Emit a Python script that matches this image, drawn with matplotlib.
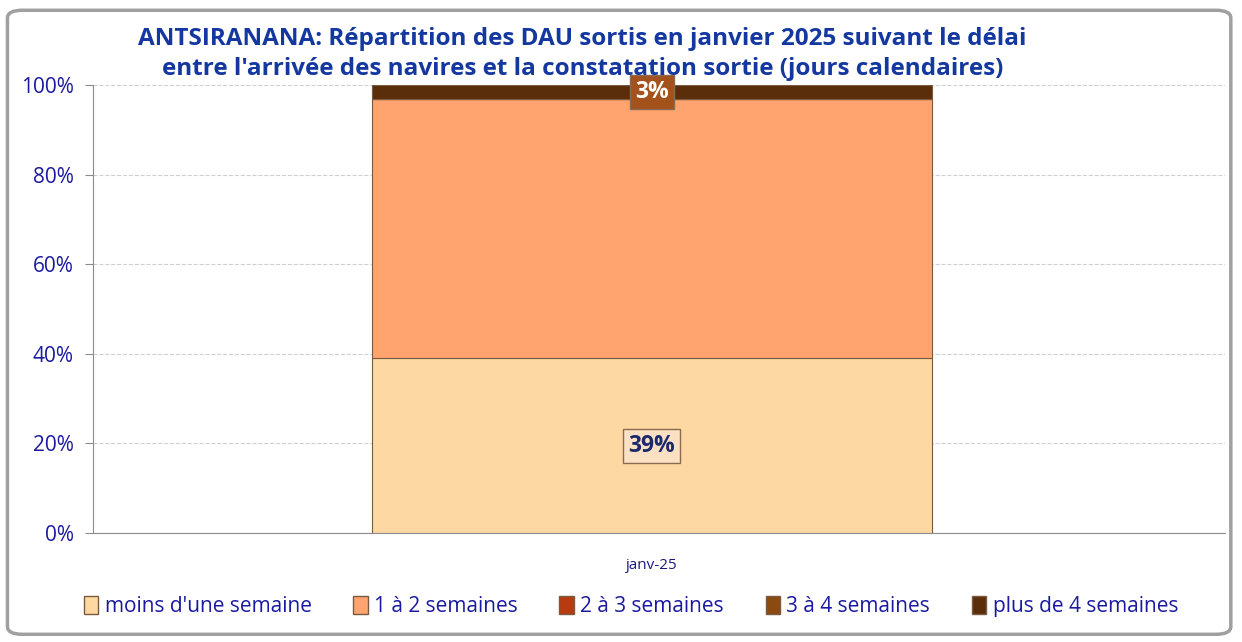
import matplotlib
matplotlib.use("Agg")
import matplotlib.pyplot as plt
from matplotlib.patches import FancyBboxPatch, Patch
from matplotlib.ticker import PercentFormatter

categories = ["janv-25"]
series_names = ["moins d'une semaine", "1 à 2 semaines", "2 à 3 semaines",
                "3 à 4 semaines", "plus de 4 semaines"]
series_values = [39, 58, 0, 0, 3]
series_colors = ["#FDD8A2", "#FFA46F", "#B83A10", "#8B4A10", "#5A2E0A"]
label_series = {0: ("39%", "#FBE0C4", "#1B2A6B"), 4: ("3%", "#A4521C", "white")}

plt.rcParams['font.family'] = ['Open Sans', 'DejaVu Sans']
fig = plt.figure(figsize=(12.42, 6.42), dpi=100)

# outer frame
frame = FancyBboxPatch((0.006, 0.012), 0.985, 0.972, boxstyle="round,pad=0,rounding_size=0.012",
                       transform=fig.transFigure, facecolor="white", edgecolor="#A0A0A0",
                       linewidth=2.5, zorder=-5)
fig.patches.append(frame)

ax = fig.add_axes([0.075, 0.17, 0.911, 0.697])
ax.set_zorder(2)
ax.patch.set_alpha(0)
bottom = 0
for i, (name, val, col) in enumerate(zip(series_names, series_values, series_colors)):
    ax.bar(categories, [val], bottom=[bottom], width=0.99, color=col,
           edgecolor="#7A5A40", linewidth=0.8, zorder=3, label=name)
    if i in label_series and val > 0:
        txt, fc, tc = label_series[i]
        ax.text(0, bottom + val / 2, txt, ha="center", va="center",
                fontsize=16.5, fontweight="bold", color=tc, zorder=5,
                bbox=dict(boxstyle="square,pad=0.22", facecolor=fc, edgecolor="#8A6A50", linewidth=1))
    bottom += val

ax.set_xlim(-0.988, 1.013)
ax.set_ylim(0, 100)
ax.yaxis.set_major_formatter(PercentFormatter(decimals=0))
ax.set_yticks([0, 20, 40, 60, 80, 100])
ax.grid(axis="y", color="#D0D0D0", linestyle="--", linewidth=0.8, zorder=0)
for s in ["top", "right"]:
    ax.spines[s].set_visible(False)
ax.spines["left"].set_color("#8C8C8C")
ax.spines["bottom"].set_color("#8C8C8C")
ax.tick_params(axis="y", colors="#8C8C8C", labelcolor="#1A1AA0", labelsize=15, length=6, pad=8)
ax.tick_params(axis="x", length=0, labelcolor="#1A1A80", labelsize=11, pad=18)

fig.text(0.469, 0.916, "ANTSIRANANA: Répartition des DAU sortis en janvier 2025 suivant le délai\n"
         "entre l'arrivée des navires et la constatation sortie (jours calendaires)",
         ha="center", va="center", fontsize=17.5, fontweight="bold", color="#1438A0",
         linespacing=1.35)

handles = [Patch(facecolor=c, edgecolor="#7A5A40") for c in series_colors]
fig.legend(handles, series_names, loc="center", bbox_to_anchor=(0.508, 0.055), ncol=5,
           frameon=False, fontsize=15, labelcolor="#1A1AA0", handlelength=0.7,
           handleheight=0.9, handletextpad=0.3, columnspacing=2.0)

fig.savefig("out.png", dpi=100)
